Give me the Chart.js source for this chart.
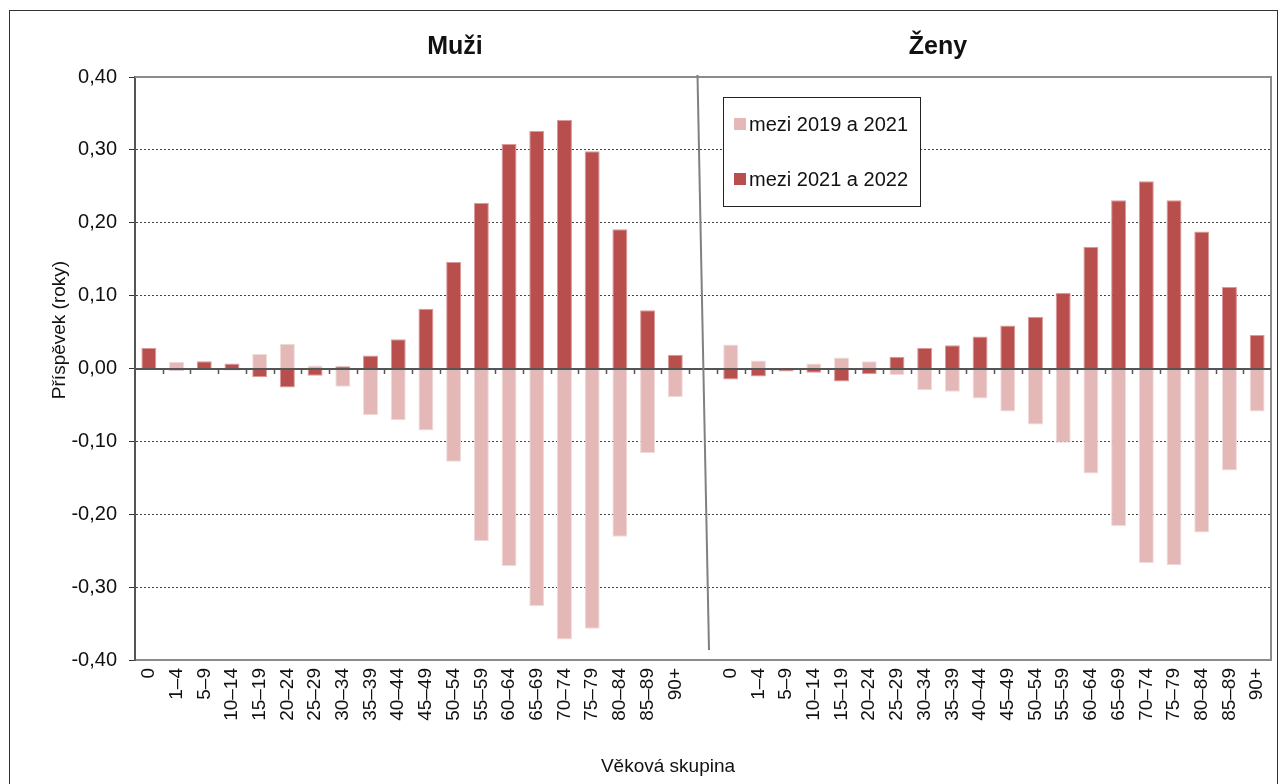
<!DOCTYPE html>
<html lang="cs">
<head>
<meta charset="UTF-8">
<title>Příspěvek věkových skupin</title>
<script src="https://cdn.jsdelivr.net/npm/chart.js@4.4.0/dist/chart.umd.min.js"></script>
<style>
  body { margin: 0; background: #fff; }
  #obal { position: relative; width: 1280px; height: 784px; }
</style>
</head>
<body>
<div id="obal"><canvas id="graf" width="1280" height="784"></canvas></div>
<script>
  // data
  var skupiny = ['0', '1–4', '5–9', '10–14', '15–19', '20–24', '25–29', '30–34', '35–39', '40–44',
    '45–49', '50–54', '55–59', '60–64', '65–69', '70–74', '75–79', '80–84', '85–89', '90+'];
  var muzi1921 = [0, 0.009, -0.001, -0.003, 0.020, 0.034, 0.004, -0.025, -0.064, -0.071,
    -0.085, -0.128, -0.237, -0.271, -0.326, -0.372, -0.357, -0.231, -0.116, -0.039];
  var muzi2122 = [0.028, -0.003, 0.010, 0.007, -0.012, -0.026, -0.010, 0.003, 0.018, 0.040,
    0.082, 0.146, 0.227, 0.308, 0.326, 0.341, 0.298, 0.191, 0.080, 0.019];
  var zeny1921 = [0.033, 0.011, 0.001, 0.007, 0.015, 0.010, -0.009, -0.030, -0.032, -0.041,
    -0.059, -0.077, -0.102, -0.144, -0.216, -0.267, -0.270, -0.225, -0.140, -0.059];
  var zeny2122 = [-0.015, -0.011, -0.004, -0.006, -0.018, -0.008, 0.016, 0.028, 0.032, 0.044,
    0.059, 0.071, 0.104, 0.167, 0.231, 0.257, 0.231, 0.188, 0.112, 0.046];
  var nazvyRad = ['mezi 2019 a 2021', 'mezi 2021 a 2022'];
  var barvy = ['#e4b8b7', '#b94f4d'];
  var panely = ['Muži', 'Ženy'];
  var osaY = { min: -0.4, max: 0.4, krok: 0.1 };

  var pismo = "'Liberation Sans', Arial, sans-serif";

  // obe poloviny v jedne ose, mezi nimi prazdna kategorie
  var popisky = skupiny.concat([''], skupiny);
  var rada1 = muzi1921.concat([null], zeny1921);
  var rada2 = muzi2122.concat([null], zeny2122);

  function carka(v) {
    if (Math.abs(v) < 1e-9) return '0,00';
    return v.toFixed(2).replace('.', ',');
  }

  var doplnky = {
    id: 'doplnky',
    afterDatasetsDraw: function(chart) {
      var c = chart.ctx, a = chart.chartArea, x = chart.scales.x, y = chart.scales.y;
      c.save();
      // ramecek plochy
      c.strokeStyle = '#8c8c8c';
      c.lineWidth = 2;
      c.beginPath();
      c.moveTo(a.left, a.top); c.lineTo(a.right, a.top); c.lineTo(a.right, a.bottom);
      c.stroke();
      // nulova osa s carkami
      var y0 = Math.round(y.getPixelForValue(0));
      c.strokeStyle = '#555';
      c.lineWidth = 2;
      c.beginPath();
      c.moveTo(a.left, y0); c.lineTo(a.right, y0);
      c.stroke();
      c.lineWidth = 1.5;
      c.beginPath();
      for (var i = 0; i < popisky.length - 1; i++) {
        var hr = (x.getPixelForValue(i) + x.getPixelForValue(i + 1)) / 2;
        c.moveTo(Math.round(hr) + 0.5, y0); c.lineTo(Math.round(hr) + 0.5, y0 + 5);
      }
      c.stroke();
      // sikma delici cara
      c.strokeStyle = '#808080';
      c.lineWidth = 2;
      c.beginPath();
      c.moveTo(697.5, 75); c.lineTo(709, 650);
      c.stroke();
      c.restore();
    },
    afterDraw: function(chart) {
      var c = chart.ctx;
      c.save();
      c.fillStyle = '#111';
      // nadpisy panelu
      c.font = 'bold 25px ' + pismo;
      c.textAlign = 'center';
      c.textBaseline = 'middle';
      c.fillText(panely[0], 455, 47);
      c.fillText(panely[1], 938, 47);
      // nazvy os
      c.font = '19px ' + pismo;
      c.fillText('Věková skupina', 668, 767);
      c.save();
      c.translate(60, 330);
      c.rotate(-Math.PI / 2);
      c.fillText('Příspěvek (roky)', 0, 0);
      c.restore();
      // legenda
      c.fillStyle = '#fff';
      c.fillRect(723, 97, 197, 109);
      c.strokeStyle = '#222';
      c.lineWidth = 1;
      c.strokeRect(723.5, 97.5, 197, 109);
      c.font = '20px ' + pismo;
      c.textAlign = 'left';
      var radky = [124, 179];
      for (var i = 0; i < nazvyRad.length; i++) {
        c.fillStyle = barvy[i];
        c.fillRect(734, radky[i] - 6, 12, 12);
        c.fillStyle = '#111';
        c.fillText(nazvyRad[i], 749, radky[i] + 1);
      }
      // vnejsi ramecek
      c.strokeStyle = '#333';
      c.strokeRect(9.5, 10.5, 1268, 800);
      c.restore();
    }
  };

  var ctx = document.getElementById('graf').getContext('2d');
  var graf = new Chart(ctx, {
    type: 'bar',
    data: {
      labels: popisky,
      datasets: [{
        label: nazvyRad[0],
        data: rada1,
        backgroundColor: barvy[0],
        borderColor: '#f1dada',
        borderWidth: 1,
        grouped: false,
        order: 2
      }, {
        label: nazvyRad[1],
        data: rada2,
        backgroundColor: barvy[1],
        borderColor: '#d99a99',
        borderWidth: 1,
        grouped: false,
        order: 1
      }]
    },
    options: {
      responsive: false,
      animation: false,
      categoryPercentage: 1,
      barPercentage: 0.54,
      layout: { padding: { left: 0, top: 77, right: 9, bottom: 0 } },
      plugins: {
        legend: { display: false },
        tooltip: { enabled: false }
      },
      scales: {
        x: {
          afterFit: function(s) { s.height = 124; s.paddingLeft = 0; s.paddingRight = 0; },
          grid: { display: false, drawTicks: false },
          border: { display: true, color: '#8c8c8c', width: 2 },
          ticks: {
            autoSkip: false, maxRotation: 90, minRotation: 90, padding: 8,
            color: '#111', font: { family: pismo, size: 19 }
          }
        },
        y: {
          min: osaY.min,
          max: osaY.max,
          afterFit: function(s) { s.width = 135; s.paddingTop = 0; s.paddingBottom = 0; },
          border: { display: true, color: '#555', width: 2, dash: [2, 2] },
          grid: {
            color: function(k) {
              var v = k.tick ? k.tick.value : 0;
              if (Math.abs(v) < 1e-9 || Math.abs(v) > 0.39) return 'rgba(0,0,0,0)';
              return '#444';
            },
            tickColor: '#333',
            tickLength: 6,
            tickBorderDash: []
          },
          ticks: {
            stepSize: osaY.krok,
            padding: 12,
            color: '#111',
            font: { family: pismo, size: 20 },
            callback: function(v) { return carka(v); }
          }
        }
      }
    },
    plugins: [doplnky]
  });
</script>
</body>
</html>
